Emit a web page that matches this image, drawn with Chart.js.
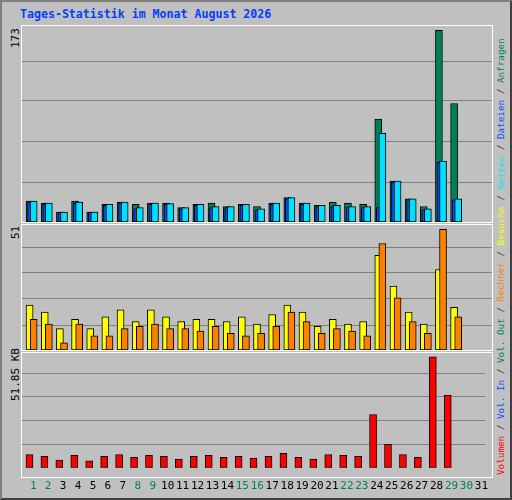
<!DOCTYPE html>
<html><head><meta charset="utf-8">
<script src="https://cdn.jsdelivr.net/npm/chart.js@4"></script>
<style>
body{margin:0;background:#fff}
#page{position:relative;width:508px;height:496px;background:#c0c0c0;border:2px solid #808080;border-right-color:#404040;border-bottom-color:#404040;font-family:"DejaVu Sans Mono",monospace}
.p{position:absolute;left:19px;width:470px;border:1px solid #fff}
canvas{display:block}
#title{position:absolute;left:18px;top:5px;color:#0040ff;font-weight:bold;font-size:11.6px}
.yl{position:absolute;font-size:11px;color:#000;transform-origin:left top;transform:rotate(-90deg);white-space:nowrap}
#leg{position:absolute;left:493px;top:473px;font-size:9.3px;transform-origin:left top;transform:rotate(-90deg);white-space:nowrap;color:#404040;line-height:12px}
</style></head><body>
<div id="page">
<div id="title">Tages-Statistik im Monat August 2026</div>
<div class="p" style="top:23px;height:196px"><canvas id="c1" width="470" height="196"></canvas></div>
<div class="p" style="top:222px;height:125px"><canvas id="c2" width="470" height="125"></canvas></div>
<div class="p" style="top:350px;height:124px"><canvas id="c3" width="470" height="144"></canvas></div>
<div class="yl" style="left:7px;top:46px">173</div>
<div class="yl" style="left:7px;top:237px">51</div>
<div class="yl" style="left:7px;top:399px">51.85 KB</div>
<div id="leg"><span style="color:#ff0000">Volumen</span> / <span style="color:#0050ff">Vol. In</span> / <span style="color:#00805a">Vol. Out</span> / <span style="color:#ff8000">Rechner</span> / <span style="color:#ffff00">Besuche</span> / <span style="color:#00e0ff">Seiten</span> / <span style="color:#0050ff">Dateien</span> / <span style="color:#00805a">Anfragen</span></div>
</div>
<script>
var days = [];
for (var i = 1; i <= 31; i++) days.push(i);
var weekend = [1, 2, 8, 9, 15, 16, 22, 23, 29, 30];
// Anfragen / Dateien / Seiten
var anfragen = [19, 17, 9, 19, 9, 16, 18, 16, 17, 17, 13, 16, 17, 14, 16, 14, 17, 22, 17, 15, 18, 17, 16, 93, 37, 21, 14, 173, 107];
var dateien = [18, 16, 9, 17, 9, 15, 17, 12, 16, 16, 12, 15, 13, 13, 15, 11, 16, 21, 16, 14, 14, 13, 13, 13, 36, 20, 11, 54, 20];
var seiten = [19, 17, 9, 18, 9, 16, 18, 13, 17, 16.6, 13, 16, 14, 14, 16, 12, 17, 22, 17, 15, 15, 14, 14, 80, 37, 21, 12, 55, 21];
// Besuche / Rechner
var besuche = [19, 16, 9, 13, 9, 14, 17, 12, 17, 14, 12, 13, 13, 12, 14, 11, 15, 19, 16, 10, 13, 11, 12, 40, 27, 16, 11, 34, 18];
var rechner = [13, 11, 3, 11, 6, 6, 9, 10, 11, 9, 9, 8, 10, 7, 6, 7, 10, 16, 12, 7, 9, 8, 6, 45, 22, 12, 7, 51, 14];
// Volumen in KB
var volumen = [6.2, 5.4, 3.6, 5.8, 3.2, 5.4, 6.2, 4.9, 5.8, 5.4, 4.1, 5.4, 5.8, 4.9, 5.4, 4.5, 5.4, 6.7, 4.9, 4.1, 6.2, 5.8, 5.4, 24.9, 11.0, 6.2, 4.9, 51.85, 34.0];
var gridFrac = [0.2, 0.41, 0.62, 0.82];

function pts(vals, off) {
    return vals.map(function (v, i) { return { x: days[i] + off, y: v } })
}
function ds(vals, off, color, order) {
    return { data: pts(vals, off), backgroundColor: color, borderColor: '#000', borderWidth: 1, borderSkipped: false, barThickness: 7, grouped: false, order: order }
}
function panel(id, sets, ymax, showDays) {
    new Chart(document.getElementById(id), {
        type: 'bar',
        data: { datasets: sets },
        options: {
            responsive: false, animation: false,
            layout: { padding: 0 },
            plugins: { legend: { display: false }, tooltip: { enabled: false } },
            scales: {
                x: {
                    type: 'linear', min: 0.35, max: 31.35, offset: false, display: showDays,
                    afterBuildTicks: function (s) { s.ticks = days.map(function (d) { return { value: d + 0.1 } }) },
                    ticks: {
                        autoSkip: false, maxRotation: 0, padding: 4,
                        font: { family: 'DejaVu Sans Mono', size: 11 },
                        callback: function (v) { return Math.round(v - 0.1) },
                        color: function (c) { return weekend.indexOf(Math.round(c.tick.value - 0.1)) >= 0 ? '#00805a' : '#000' }
                    },
                    grid: { display: false }, border: { display: false }
                },
                y: {
                    min: 0, max: ymax,
                    afterBuildTicks: function (s) { s.ticks = gridFrac.map(function (f) { return { value: f * ymax } }) },
                    ticks: { display: false, padding: 0 },
                    border: { display: false },
                    grid: { color: '#808080', lineWidth: 1, drawTicks: false }
                }
            }
        }
    });
}
panel('c1', [ds(anfragen, -0.15, '#00805a', 3), ds(dateien, -0.05, '#0050ff', 2), ds(seiten, 0.12, '#00e0ff', 1)], 177, false);
panel('c2', [ds(besuche, -0.15, '#ffff00', 2), ds(rechner, 0.12, '#ff8000', 1)], 52.8, false);
panel('c3', [ds(volumen, -0.15, '#ff0000', 1)], 53.6, true);
</script>
</body></html>
